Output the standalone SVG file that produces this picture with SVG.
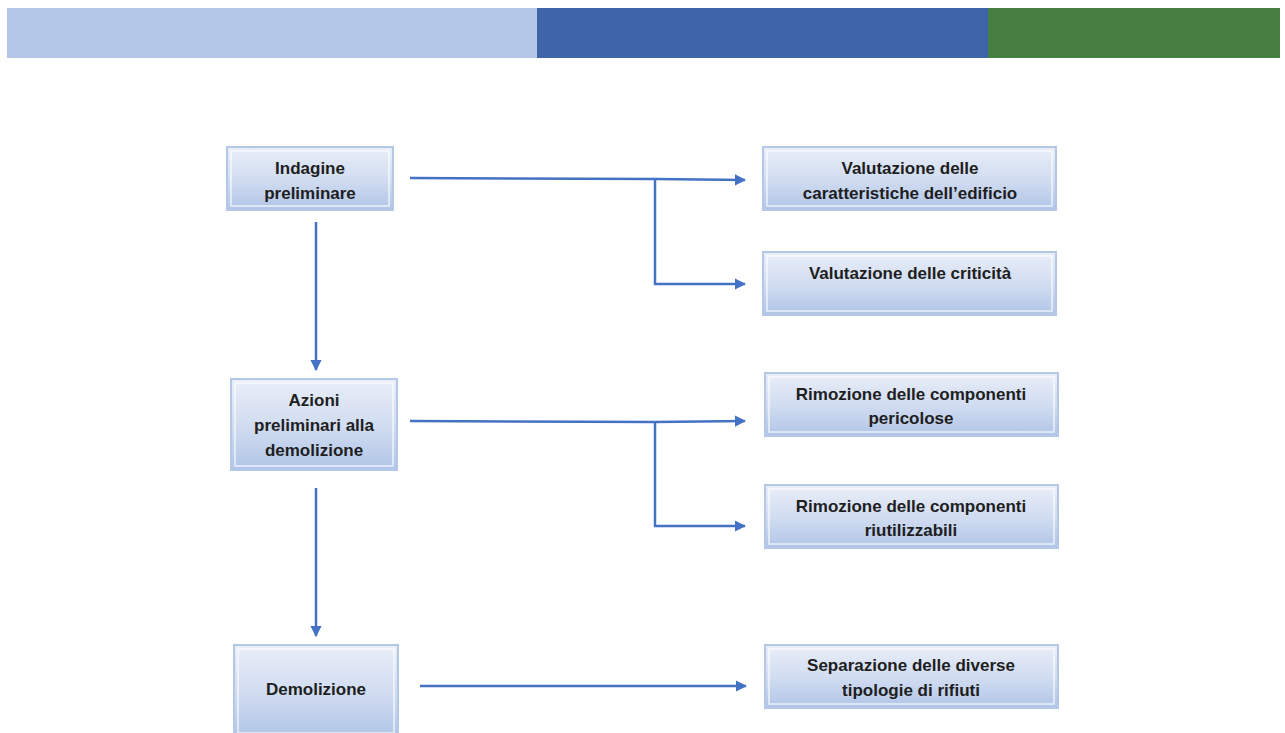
<svg xmlns="http://www.w3.org/2000/svg" width="1285" height="733" viewBox="0 0 1285 733">
<defs>
<linearGradient id="g" x1="0" y1="0" x2="0" y2="1">
<stop offset="0" stop-color="#e9eef8"/>
<stop offset="0.5" stop-color="#d2ddf1"/>
<stop offset="1" stop-color="#b1c5e7"/>
</linearGradient>
<marker id="a" viewBox="0 0 10 10" refX="9" refY="5" markerWidth="4.5" markerHeight="4.5" orient="auto" markerUnits="strokeWidth">
<path d="M0,0 L10,5 L0,10 z" fill="#4472c4"/>
</marker>
<style>
.box{fill:url(#g);stroke:#b4c7e7;stroke-width:2}
.in{fill:none;stroke:#ffffff;stroke-opacity:0.55;stroke-width:2}
.t{font-family:"Liberation Sans",Arial,sans-serif;font-weight:bold;font-size:17px;fill:#1e1e1e;text-anchor:middle}
.c{fill:none;stroke:#4472c4;stroke-width:2.5}
</style>
</defs>
<rect width="1285" height="733" fill="#ffffff"/>
<g id="topbar">
<rect x="7" y="8" width="530" height="50" fill="#b4c7e7"/>
<rect x="537" y="8" width="451" height="50" fill="#3f64aa"/>
<rect x="988" y="8" width="292" height="50" fill="#477e41"/>
</g>
<g id="connectors">
<path class="c" d="M410,178 L655,179 L745,180" marker-end="url(#a)"/>
<path class="c" d="M655,179 L655,284 L745,284" marker-end="url(#a)"/>
<path class="c" d="M316,222 L316,370" marker-end="url(#a)"/>
<path class="c" d="M410,421 L655,422 L745,421" marker-end="url(#a)"/>
<path class="c" d="M655,422 L655,526 L745,526" marker-end="url(#a)"/>
<path class="c" d="M316,488 L316,636" marker-end="url(#a)"/>
<path class="c" d="M420,686 L746,686" marker-end="url(#a)"/>
</g>
<g id="n1">
<rect class="box" x="227" y="147" width="166" height="63"/>
<rect class="in" x="231" y="151" width="158" height="55"/>
<text class="t" x="310" y="174">Indagine</text>
<text class="t" x="310" y="199">preliminare</text>
</g>
<g id="n2">
<rect class="box" x="763" y="147" width="293" height="63"/>
<rect class="in" x="767" y="151" width="285" height="55"/>
<text class="t" x="910" y="174">Valutazione delle</text>
<text class="t" x="910" y="199">caratteristiche dell’edificio</text>
</g>
<g id="n3">
<rect class="box" x="763" y="252" width="293" height="63"/>
<rect class="in" x="767" y="256" width="285" height="55"/>
<text class="t" x="910" y="279">Valutazione delle criticità</text>
</g>
<g id="n4">
<rect class="box" x="231" y="379" width="166" height="91"/>
<rect class="in" x="235" y="383" width="158" height="83"/>
<text class="t" x="314" y="406">Azioni</text>
<text class="t" x="314" y="431">preliminari alla</text>
<text class="t" x="314" y="456">demolizione</text>
</g>
<g id="n5">
<rect class="box" x="765" y="373" width="293" height="63"/>
<rect class="in" x="769" y="377" width="285" height="55"/>
<text class="t" x="911" y="400">Rimozione delle componenti</text>
<text class="t" x="911" y="424">pericolose</text>
</g>
<g id="n6">
<rect class="box" x="765" y="485" width="293" height="63"/>
<rect class="in" x="769" y="489" width="285" height="55"/>
<text class="t" x="911" y="512">Rimozione delle componenti</text>
<text class="t" x="911" y="536">riutilizzabili</text>
</g>
<g id="n7">
<rect class="box" x="234" y="645" width="164" height="92"/>
<rect class="in" x="238" y="649" width="156" height="84"/>
<text class="t" x="316" y="695">Demolizione</text>
</g>
<g id="n8">
<rect class="box" x="765" y="645" width="293" height="63"/>
<rect class="in" x="769" y="649" width="285" height="55"/>
<text class="t" x="911" y="671">Separazione delle diverse</text>
<text class="t" x="911" y="696">tipologie di rifiuti</text>
</g>
</svg>
